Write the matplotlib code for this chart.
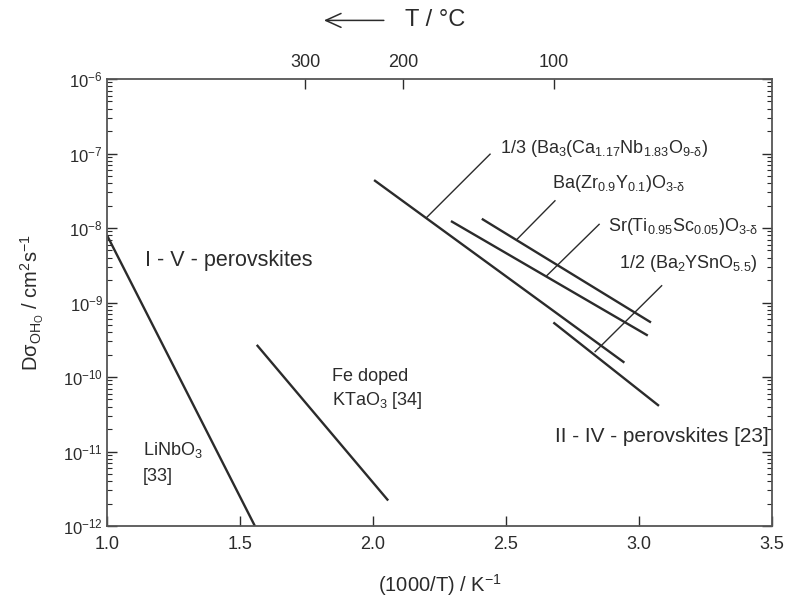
import matplotlib
matplotlib.use("Agg")
import matplotlib.pyplot as plt
import numpy as np

plt.rcParams["font.family"] = ["Liberation Sans", "DejaVu Sans"]
plt.rcParams["mathtext.fontset"] = "custom"
plt.rcParams["mathtext.rm"] = "Liberation Sans"
plt.rcParams["mathtext.it"] = "Liberation Sans:italic"
plt.rcParams["mathtext.bf"] = "Liberation Sans:bold"
plt.rcParams["mathtext.sf"] = "Liberation Sans"
plt.rcParams["mathtext.default"] = "regular"

INK = "#2b2b2b"

# Diffusion-coefficient lines, (1000/T) in K^-1 and D in cm^2/s (start, end)
linbo3_x = [1.0, 1.556]
linbo3_y = [8.0e-9, 1.0e-12]
ktao3_x = [1.563, 2.057]
ktao3_y = [2.7e-10, 2.2e-12]
bcn_x = [2.004, 2.945]
bcn_y = [4.4e-8, 1.56e-10]
bzy_x = [2.409, 3.045]
bzy_y = [1.33e-8, 5.4e-10]
sts_x = [2.293, 3.033]
sts_y = [1.24e-8, 3.6e-10]
bys_x = [2.678, 3.075]
bys_y = [5.4e-10, 4.1e-11]

# leader lines from the labels to the curves
leader_bcn = ([2.202, 2.440], [1.39e-8, 9.8e-8])
leader_bzy = ([2.542, 2.684], [7.1e-9, 2.32e-8])
leader_sts = ([2.653, 2.850], [2.29e-9, 1.12e-8])
leader_bys = ([2.835, 3.085], [2.19e-10, 1.68e-9])

x_ticks = [1.0, 1.5, 2.0, 2.5, 3.0, 3.5]
top_temps_c = [300, 200, 100]

fig = plt.figure(figsize=(7.89, 6.0), dpi=100)
ax = fig.add_axes([0.1356, 0.1233, 0.8429, 0.745])

for xs, ys in [(linbo3_x, linbo3_y), (ktao3_x, ktao3_y), (bcn_x, bcn_y),
               (bzy_x, bzy_y), (sts_x, sts_y), (bys_x, bys_y)]:
    ax.plot(xs, ys, color=INK, lw=1.7, solid_capstyle="butt")

for xs, ys in [leader_bcn, leader_bzy, leader_sts, leader_bys]:
    ax.plot(xs, ys, color=INK, lw=1.0)

ax.set_yscale("log")
ax.set_xlim(1.0, 3.5)
ax.set_ylim(1e-12, 1e-6)
ax.set_xticks(x_ticks)
ax.set_xticklabels([f"{v:.1f}" for v in x_ticks])
ax.tick_params(axis="x", which="both", direction="in", top=False, length=7,
               width=1, colors=INK, labelsize=13, pad=7)
ax.tick_params(axis="y", which="major", direction="in", right=True, length=7,
               width=1, colors=INK, labelsize=12, pad=3)
ax.tick_params(axis="y", which="minor", direction="in", right=True, length=3.5,
               width=0.8, colors=INK)
for s in ax.spines.values():
    s.set_color("#555555")
    s.set_linewidth(1.3)

ax.set_xlabel(r"(1000/T) / K$^{-1}$", fontsize=14.5, color=INK, labelpad=14)
ax.set_ylabel(r"D$\sigma_{OH_{O}}$ / cm$^{2}$s$^{-1}$", fontsize=14.5,
              color=INK, labelpad=12)

# temperature scale on top
top = ax.secondary_xaxis("top")
top.set_xticks([1000.0 / (t + 273.15) for t in top_temps_c])
top.set_xticklabels([str(t) for t in top_temps_c])
top.tick_params(axis="x", direction="in", length=7, width=1, colors=INK,
                labelsize=13, pad=6)
top.spines["top"].set_visible(False)

fs = 13
ax.text(2.477, 10 ** -6.93, r"1/3 (Ba$_3$(Ca$_{1.17}$Nb$_{1.83}$O$_{9\text{-}\delta}$)",
        fontsize=fs, color=INK, va="center", ha="left")
ax.text(2.672, 10 ** -7.40, r"Ba(Zr$_{0.9}$Y$_{0.1}$)O$_{3\text{-}\delta}$",
        fontsize=fs, color=INK, va="center", ha="left")
ax.text(2.884, 10 ** -7.98, r"Sr(Ti$_{0.95}$Sc$_{0.05}$)O$_{3\text{-}\delta}$",
        fontsize=fs, color=INK, va="center", ha="left")
ax.text(2.926, 10 ** -8.47, r"1/2 (Ba$_2$YSnO$_{5.5}$)",
        fontsize=fs, color=INK, va="center", ha="left")

ax.text(1.143, 10 ** -8.43, "I - V - perovskites", fontsize=15.5, color=INK,
        va="center", ha="left")
ax.text(2.684, 10 ** -10.80, "II - IV - perovskites [23]", fontsize=15,
        color=INK, va="center", ha="left")
ax.text(1.135, 10 ** -10.98, r"LiNbO$_3$", fontsize=fs, color=INK,
        va="center", ha="left")
ax.text(1.135, 10 ** -11.34, "[33]", fontsize=fs, color=INK,
        va="center", ha="left")
ax.text(1.845, 10 ** -9.99, "Fe doped", fontsize=fs, color=INK,
        va="center", ha="left")
ax.text(1.845, 10 ** -10.31, r"KTaO$_3$ [34]", fontsize=fs, color=INK,
        va="center", ha="left")

# temperature direction marker above the top axis
fig.text(0.513, 0.966, "T / °C", fontsize=17, color=INK, va="center", ha="left")
fig.patches.append(matplotlib.patches.FancyArrowPatch(
    (0.490, 0.966), (0.407, 0.966), transform=fig.transFigure,
    arrowstyle="->,head_length=11,head_width=5", lw=1.1, color=INK,
    mutation_scale=1))

fig.savefig("out.png", dpi=100)
